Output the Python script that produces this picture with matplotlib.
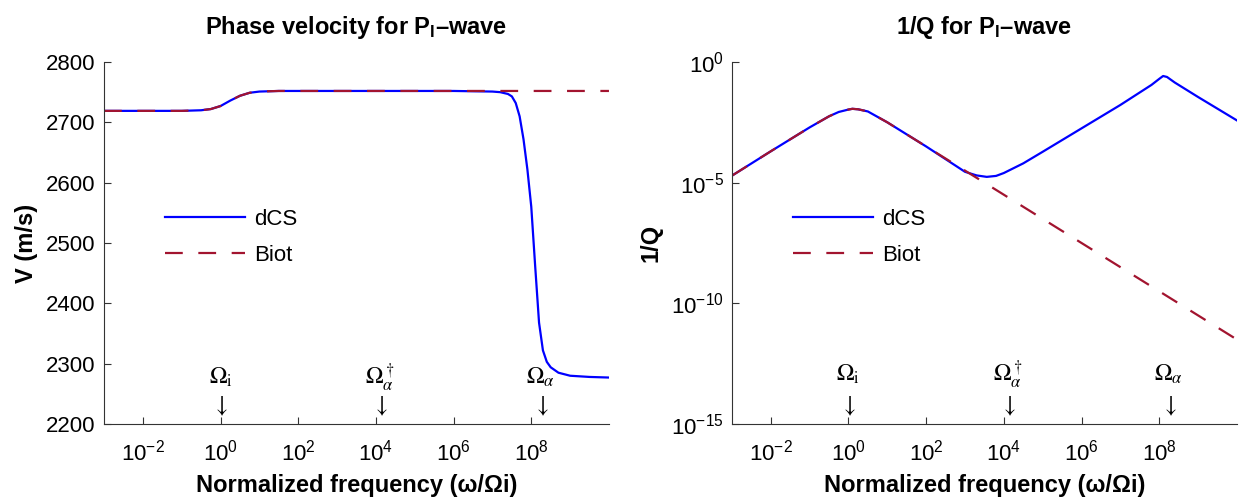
import matplotlib
matplotlib.use('Agg')
import matplotlib.pyplot as plt
import numpy as np

# ---- data (log10 of normalized frequency) ----
v_logf_dcs = [-3, -1, -0.5, -0.25, 0, 0.25, 0.5, 0.75, 1, 1.5, 2, 4, 6, 7, 7.2, 7.4, 7.5,
              7.6, 7.7, 7.8, 7.9, 8.0, 8.1, 8.2, 8.3, 8.4, 8.5, 8.7, 9, 9.5, 10]
v_dcs = [2719, 2719, 2720, 2722, 2727, 2736, 2744, 2749, 2751, 2752, 2752, 2752, 2752, 2751, 2750, 2747, 2743,
         2732, 2710, 2672, 2622, 2560, 2462, 2368, 2322, 2303, 2294, 2285, 2280, 2278, 2277]
v_logf_biot = [-3, -1, -0.5, -0.25, 0, 0.25, 0.5, 0.75, 1, 1.5, 2, 4, 6, 8, 10]
v_biot = [2719, 2719, 2720, 2722, 2727, 2736, 2744, 2749, 2751, 2752, 2752, 2752, 2752, 2752, 2752]

q_logf_dcs = [-3, -2, -1, -0.5, -0.25, 0, 0.1, 0.25, 0.5, 1, 2, 3, 3.3, 3.56, 3.8, 4.0, 4.5,
              5, 6, 7, 7.8, 8.0, 8.1, 8.2, 8.4, 9, 10]
q_log_dcs = [-4.71, -3.7, -2.71, -2.25, -2.07, -1.97, -1.94, -1.96, -2.05, -2.5, -3.5, -4.55, -4.7,
             -4.76, -4.72, -4.6, -4.2, -3.72, -2.75, -1.78, -0.95, -0.7, -0.58, -0.62, -0.85, -1.45, -2.42]
q_logf_biot = [-3, -2, -1, -0.5, -0.25, 0, 0.1, 0.25, 0.5, 1, 2, 3, 4, 5, 6, 7, 8, 9, 10]
q_log_biot = [-4.71, -3.7, -2.71, -2.25, -2.07, -1.97, -1.94, -1.96, -2.05, -2.5, -3.5, -4.5,
              -5.5, -6.5, -7.5, -8.5, -9.5, -10.5, -11.5]

# characteristic frequencies (log10) marked with arrows
mark_logf = [0, 4.1, 8.25]
mark_labels = [r'$\Omega_{\mathrm{i}}$', r'$\Omega_\alpha^\dagger$', r'$\Omega_\alpha$']

xticks_exp = [-2, 0, 2, 4, 6, 8]

plt.rcParams['font.family'] = ['Liberation Sans', 'DejaVu Sans']
plt.rcParams['mathtext.fontset'] = 'custom'
plt.rcParams['mathtext.rm'] = 'Liberation Sans'
plt.rcParams['mathtext.it'] = 'Liberation Sans:italic'
plt.rcParams['mathtext.bf'] = 'Liberation Sans:bold'
plt.rcParams['mathtext.sf'] = 'Liberation Sans'

c_dcs = (0, 0, 1)
c_biot = (0.635, 0.078, 0.184)

fig = plt.figure(figsize=(12.41, 5.0), dpi=100)
ax1 = fig.add_axes([0.0838, 0.152, 0.4069, 0.724])
ax2 = fig.add_axes([0.5898, 0.152, 0.4069, 0.724])

f = lambda a: 10.0 ** np.array(a)

ax1.plot(f(v_logf_dcs), v_dcs, color=c_dcs, lw=1.6, label='dCS')
ax1.plot(f(v_logf_biot), v_biot, color=c_biot, lw=1.6, dashes=(8, 7), label='Biot')
ax1.set_xscale('log')
ax1.set_xlim(1e-3, 1e10)
ax1.set_ylim(2200, 2800)
ax1.set_yticks(np.arange(2200, 2801, 100))
ax1.set_ylabel('V (m/s)', fontsize=17, fontweight='bold', labelpad=6)
ax1.set_title(r'Phase velocity for P$_{\mathbf{I}}$–wave', fontsize=17, fontweight='bold', pad=20)

ax2.plot(f(q_logf_dcs), f(q_log_dcs), color=c_dcs, lw=1.6, label='dCS')
ax2.plot(f(q_logf_biot), f(q_log_biot), color=c_biot, lw=1.6, dashes=(8, 7), label='Biot')
ax2.set_xscale('log')
ax2.set_yscale('log')
ax2.set_xlim(1e-3, 1e10)
ax2.set_ylim(1e-15, 1e0)
ax2.set_yticks([1e-15, 1e-10, 1e-5, 1e0])
ax2.set_ylabel('1/Q', fontsize=17, fontweight='bold', labelpad=6)
ax2.set_title(r'1/Q for P$_{\mathbf{I}}$–wave', fontsize=17, fontweight='bold', pad=20)

for ax, y_txt, y_arr in [(ax1, 2277, 2229), (ax2, 10**-12.95, 10**-14.25)]:
    ax.set_xticks([10.0 ** e for e in xticks_exp])
    ax.minorticks_off()
    ax.tick_params(direction='in', length=5, width=0.8, labelsize=16, color='#333333')
    ax.tick_params(axis='x', pad=11)
    ax.tick_params(axis='y', pad=6)
    for s in ['top', 'right']:
        ax.spines[s].set_visible(False)
    for s in ['left', 'bottom']:
        ax.spines[s].set_color('#333333')
    ax.set_xlabel('Normalized frequency (ω/Ωi)', fontsize=17, fontweight='bold', labelpad=6)
    ax.legend(loc='upper left', bbox_to_anchor=(0.12, 0.595), frameon=False, fontsize=16,
              handlelength=3.6, handletextpad=0.45, labelspacing=0.7, borderpad=0, borderaxespad=0)
    for lf, lab in zip(mark_logf, mark_labels):
        ax.text(10.0 ** lf, y_txt, lab, ha='center', va='center', fontsize=17, math_fontfamily='stix')
        ax.text(10.0 ** lf, y_arr, r'$\downarrow$', ha='center', va='center', fontsize=17,
                math_fontfamily='stix')

fig.savefig('out.png', dpi=100)
